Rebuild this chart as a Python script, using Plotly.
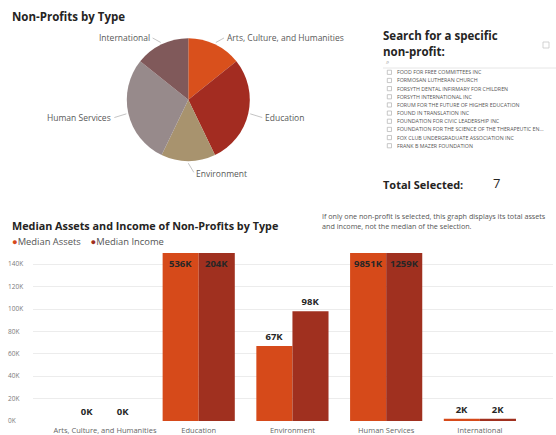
import math
import plotly.graph_objects as go

W, H = 556, 435

# --- data -------------------------------------------------------------
types = ["Arts, Culture, and Humanities", "Education", "Environment",
         "Human Services", "International"]
type_counts = [1, 2, 1, 2, 1]
type_colors = ["#D9501C", "#A32C21", "#A8936E", "#978A8B", "#80595A"]

series_names = ["Median Assets", "Median Income"]
median_assets_k = [0, 536, 67, 9851, 2]
median_income_k = [0, 204, 98, 1259, 2]
series_colors = ["#D64A1A", "#A0301F"]

y_ticks = [0, 20, 40, 60, 80, 100, 120, 140]
y_max = 150

nonprofits = [
    "FOOD FOR FREE COMMITTEES INC",
    "FORMOSAN LUTHERAN CHURCH",
    "FORSYTH DENTAL INFIRMARY FOR CHILDREN",
    "FORSYTH INTERNATIONAL INC",
    "FORUM FOR THE FUTURE OF HIGHER EDUCATION",
    "FOUND IN TRANSLATION INC",
    "FOUNDATION FOR CIVIC LEADERSHIP INC",
    "FOUNDATION FOR THE SCIENCE OF THE THERAPEUTIC EN...",
    "FOX CLUB UNDERGRADUATE ASSOCIATION INC",
    "FRANK B MAZER FOUNDATION",
]

FONT = "Open Sans, Segoe UI, sans-serif"
BAR_GAP = 0.23


def px(x):
    return x / W


def py(y):
    return 1 - y / H


fig = go.Figure()

# --- pie: non-profits by type -----------------------------------------
cx, cy, r = 188.3, 99.7, 61.5
fig.add_trace(go.Pie(
    labels=types, values=type_counts, sort=False, direction="clockwise",
    rotation=0, marker=dict(colors=type_colors, line=dict(width=0)),
    textinfo="none", hoverinfo="label+value", showlegend=False,
    domain=dict(x=[px(cx - r), px(cx + r)], y=[py(cy + r), py(cy - r)]),
))

# outside labels with leader lines, anchored at each slice's mid-angle
label_offsets = [(9, -5), (13, 4), (6, 10), (-13, 4), (-9, -5)]
total = sum(type_counts)
acc = 0
for name, cnt, (dx, dy) in zip(types, type_counts, label_offsets):
    mid = (acc + cnt / 2) / total * 2 * math.pi
    acc += cnt
    ex = cx + (r + 2) * math.sin(mid)
    ey = cy - (r + 2) * math.cos(mid)
    fig.add_annotation(
        x=px(ex), y=py(ey), xref="paper", yref="paper",
        ax=dx, ay=dy, axref="pixel", ayref="pixel",
        text=name, showarrow=True, arrowhead=0, arrowwidth=0.8,
        arrowcolor="#b5b5b5", standoff=0, startstandoff=1,
        xanchor="left" if dx > 0 else "right",
        font=dict(family=FONT, size=8.5, color="#595959"),
    )

# --- bar chart: median assets and income ------------------------------
label_font = dict(family=FONT, size=9.5, color="#262626", weight=700)
n_series = len(series_names)
bar_w = (1 - BAR_GAP) / n_series
for k, (name, vals, col) in enumerate(zip(series_names,
                                          [median_assets_k, median_income_k],
                                          series_colors)):
    fig.add_trace(go.Bar(
        x=types, y=vals, name=name, marker=dict(color=col, line=dict(width=0)),
        text=[f"{v}K" for v in vals],
        textposition=["none" if v > y_max else "outside" for v in vals],
        textfont=label_font, outsidetextfont=label_font,
        textangle=0, cliponaxis=True, showlegend=False,
        xaxis="x", yaxis="y",
    ))
    # bars running past the axis top carry their label inside the top edge
    offset = (k - (n_series - 1) / 2) * bar_w
    for i, v in enumerate(vals):
        if v > y_max:
            fig.add_annotation(
                x=i + offset, y=min(v, y_max), xref="x", yref="y",
                text=f"{v}K", showarrow=False, yanchor="top", yshift=-2,
                font=label_font,
            )

fig.update_layout(
    width=W, height=H, margin=dict(l=0, r=0, t=0, b=0, autoexpand=False),
    paper_bgcolor="white", plot_bgcolor="white",
    barmode="group", bargap=BAR_GAP, bargroupgap=0,
    xaxis=dict(
        domain=[px(33), px(553)], range=[-0.768, 4.78], showline=False,
        showgrid=False, zeroline=False, ticks="", ticklabelstandoff=3,
        automargin=False,
        tickfont=dict(family=FONT, size=7.5, color="#666666"),
        anchor="y",
    ),
    yaxis=dict(
        domain=[py(421), py(253)], range=[0, y_max], showticklabels=False,
        tickvals=y_ticks, showgrid=True, gridcolor="#ececec", gridwidth=1,
        zeroline=False, showline=False, ticks="", anchor="x",
        automargin=False,
    ),
    yaxis2=dict(
        overlaying="y", side="right", anchor="free", position=px(7),
        range=[0, y_max], tickvals=y_ticks, automargin=False,
        ticktext=[f"{t}K" for t in y_ticks], showgrid=False,
        zeroline=False, showline=False, ticks="",
        tickfont=dict(family=FONT, size=6.5, color="#7a7a7a"),
    ),
    showlegend=False,
)
# keep the label axis drawn even without a trace of its own
fig.add_trace(go.Scatter(x=[types[0]], y=[0], yaxis="y2", xaxis="x",
                         mode="markers", marker=dict(opacity=0),
                         hoverinfo="skip", showlegend=False))


def text(x, y, s, size, color="#252423", bold=False, anchor="left"):
    fig.add_annotation(
        x=px(x), y=py(y), xref="paper", yref="paper", text=s,
        showarrow=False, xanchor=anchor, yanchor="middle",
        font=dict(family=FONT, size=size, color=color,
                  weight=700 if bold else 400),
    )


# titles
text(10, 16, "Non-Profits by Type", 11.5, bold=True)
text(10, 225, "Median Assets and Income of Non-Profits by Type", 10.8, bold=True)

# legend
legend_html = "    ".join(
    f"<span style='color:{c}'>●</span>{n}"
    for n, c in zip(series_names, series_colors))
text(10, 242, legend_html, 9.4, color="#555555")

# note next to the bar chart
text(320, 216, "If only one non-profit is selected, this graph displays its total assets",
     7.2, color="#555555")
text(320, 225.5, "and income, not the median of the selection.", 7.2, color="#555555")

# search panel
text(381, 35, "Search for a specific", 11.5, bold=True)
text(381, 51.5, "non-profit:", 11.5, bold=True)
text(384, 62.5, "⌕", 6, color="#777777")
fig.add_shape(type="line", xref="paper", yref="paper",
              x0=px(383), x1=px(556), y0=py(68), y1=py(68),
              line=dict(color="#e6e6e6", width=1))
fig.add_shape(type="rect", xref="paper", yref="paper",
              x0=px(543), x1=px(549), y0=py(48), y1=py(42),
              line=dict(color="#c8c8c8", width=0.8))
for i, name in enumerate(nonprofits):
    yy = 72.3 + i * 8.16
    fig.add_shape(type="rect", xref="paper", yref="paper",
                  x0=px(387.3), x1=px(391.5), y0=py(yy + 2.1), y1=py(yy - 2.1),
                  line=dict(color="#b0b0b0", width=0.7))
    text(395, yy, name, 5.3, color="#555555")

# selection total
text(381, 184, "Total Selected:", 11, bold=True)
text(491, 183, str(sum(type_counts)), 13, color="#252423")

fig.write_html("out.html")
